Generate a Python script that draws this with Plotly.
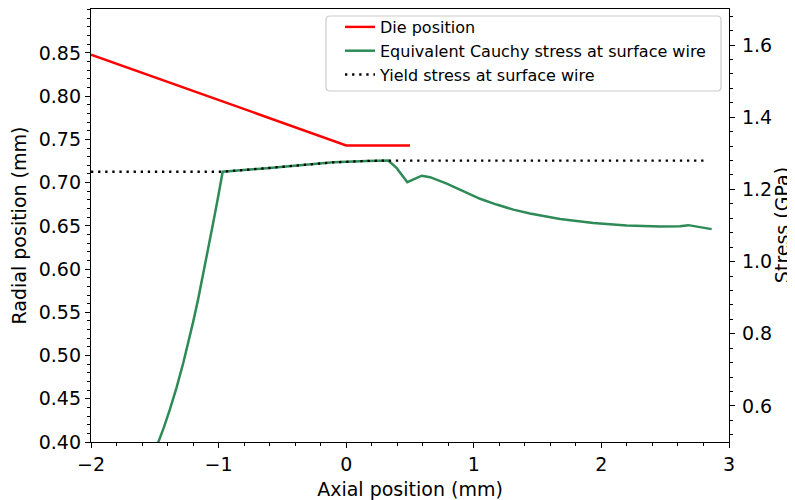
import plotly.graph_objects as go

# ---- data ----
die_x = [-2.0, 0.0, 0.5]
die_r = [0.848, 0.743, 0.743]

stress_x = [-1.52, -1.473, -1.43, -1.381, -1.33, -1.277, -1.237, -1.198,
            -1.159, -1.120, -1.081, -1.042, -1.005, -0.968,
            -0.623, -0.362, -0.101, 0.161, 0.265, 0.33, 0.396, 0.479, 0.592,
            0.657, 0.788, 0.918, 1.049, 1.179, 1.310, 1.440, 1.571, 1.676,
            1.937, 2.198, 2.460, 2.616, 2.681, 2.864]
stress_s = [0.456, 0.4985, 0.539, 0.591, 0.650, 0.719, 0.776, 0.835,
            0.898, 0.965, 1.035, 1.108, 1.177, 1.249,
            1.259, 1.266, 1.275, 1.279, 1.280, 1.280, 1.259, 1.220, 1.238,
            1.234, 1.216, 1.194, 1.174, 1.158, 1.144, 1.133, 1.124, 1.118,
            1.107, 1.100, 1.097, 1.098, 1.101, 1.090]

yield_x = [-2.0, -0.968, -0.623, -0.362, -0.101, 0.161, 0.33, 2.83]
yield_s = [1.249, 1.249, 1.259, 1.266, 1.275, 1.279, 1.280, 1.280]

x_ticks = [-2, -1, 0, 1, 2, 3]
r_ticks = [0.40, 0.45, 0.50, 0.55, 0.60, 0.65, 0.70, 0.75, 0.80, 0.85]
s_ticks = [0.6, 0.8, 1.0, 1.2, 1.4, 1.6]

FONT = "DejaVu Sans"

fig = go.Figure()
fig.add_trace(go.Scatter(x=die_x, y=die_r, mode="lines", name="Die position",
                         line=dict(color="#ff0000", width=2.4), yaxis="y"))
fig.add_trace(go.Scatter(x=stress_x, y=stress_s, mode="lines",
                         name="Equivalent Cauchy stress at surface wire",
                         line=dict(color="#2e8b57", width=2.5), yaxis="y2"))
fig.add_trace(go.Scatter(x=yield_x, y=yield_s, mode="lines",
                         name="Yield stress at surface wire",
                         line=dict(color="#000000", width=2.3, dash="2.3px,4.8px"),
                         yaxis="y2"))

axis_common = dict(showline=True, linecolor="black", linewidth=1.3,
                   ticks="outside", ticklen=5, tickwidth=1.2, tickcolor="black",
                   showgrid=False, zeroline=False, automargin=False,
                   tickfont=dict(family=FONT, size=19, color="black"))

# rounded legend frame (paper coordinates)
x0, x1 = 0.3683, 0.9875
y0, y1 = 0.8106, 0.9838
rx, ry = 4 / 638, 4 / 433
frame_path = (f"M {x0+rx},{y1} L {x1-rx},{y1} Q {x1},{y1} {x1},{y1-ry} "
              f"L {x1},{y0+ry} Q {x1},{y0} {x1-rx},{y0} L {x0+rx},{y0} "
              f"Q {x0},{y0} {x0},{y0+ry} L {x0},{y1-ry} Q {x0},{y1} {x0+rx},{y1} Z")

fig.update_layout(
    width=787, height=492,
    margin=dict(l=83, r=66, t=1, b=58),
    paper_bgcolor="white", plot_bgcolor="white",
    font=dict(family=FONT, size=19, color="black"),
    xaxis=dict(range=[-2, 3], tickvals=x_ticks, mirror=True,
               title=dict(text="Axial position (mm)", font=dict(size=19)),
               minor=dict(dtick=0.2, tick0=0, ticks="outside", ticklen=3,
                          tickcolor="black", tickwidth=1),
               **axis_common),
    yaxis=dict(range=[0.40, 0.9008], tickvals=r_ticks, tickformat=".2f",
               title=dict(text="Radial position (mm)", font=dict(size=19)),
               minor=dict(dtick=0.01, tick0=0, ticks="outside", ticklen=3,
                          tickcolor="black", tickwidth=1),
               **axis_common),
    yaxis2=dict(range=[0.5, 1.7], tickvals=s_ticks, tickformat=".1f",
                overlaying="y", side="right", ticklabelstandoff=3,
                minor=dict(dtick=0.04, tick0=0, ticks="outside", ticklen=3,
                           tickcolor="black", tickwidth=1),
                **axis_common),
    annotations=[dict(text="Stress (GPa)", xref="paper", yref="paper",
                      x=1.0825, y=0.5, xanchor="center", yanchor="middle",
                      textangle=-90, showarrow=False,
                      font=dict(family=FONT, size=19, color="black"))],
    legend=dict(x=0.3903, y=0.9977, xanchor="left", yanchor="top",
                bgcolor="rgba(0,0,0,0)", borderwidth=0,
                font=dict(family=FONT, size=16, color="black"),
                tracegroupgap=0),
    shapes=[dict(type="path", xref="paper", yref="paper", path=frame_path,
                 fillcolor="rgba(255,255,255,0.8)",
                 line=dict(color="#cccccc", width=1.2), layer="above")],
    showlegend=True,
)

fig.write_html("out.html")
